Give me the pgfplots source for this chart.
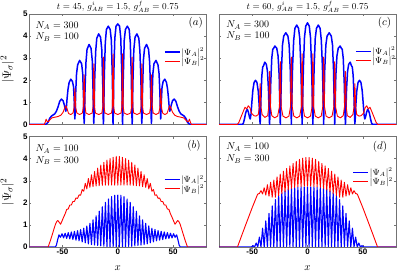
\documentclass[border=0pt]{standalone}
\usepackage{fontspec}
\setsansfont{Liberation Sans}
\usepackage{pgfplots}
\pgfplotsset{compat=1.18}
\definecolor{framegray}{gray}{0.45}
\pgfplotsset{
  every axis title shift=0pt,
  panel/.style={
    scale only axis, width=177pt, height=110.5pt,
    xmin=-80, xmax=80, ymin=0, ymax=5,
    xtick={-50,0,50}, ytick={0,1,2,3,4,5},
    tick align=inside, major tick length=2pt,
    axis line style={framegray}, tick style={framegray, line width=0.4pt},
    ticklabel style={font=\fontsize{8}{9}\selectfont\sffamily\bfseries, inner sep=1.5pt},
    legend cell align=left,
    legend image code/.code={\draw[##1] (0pt,0pt) -- (15pt,0pt);},
    legend style={draw=none, fill=none, anchor=west, font=\fontsize{9}{10}\selectfont, row sep=-2pt, inner sep=0pt, nodes={inner sep=1pt}},
    ylabel style={font=\fontsize{13}{15}\selectfont, at={(axis description cs:-0.125,0.5)}, anchor=center},
    xlabel style={font=\fontsize{11}{13}\selectfont, at={(axis description cs:0.5,-0.19)}, anchor=center},
    title style={font=\fontsize{9}{11}\selectfont, at={(axis description cs:0.5,1)}, anchor=south, inner sep=1.5pt},
    clip=true,
  },
  bl/.style={blue, line width=1.5pt, line join=round},
  bt/.style={blue, line width=1.1pt, line join=round},
  rd/.style={red, line width=0.9pt, line join=round},
}
\begin{document}
\begin{tikzpicture}
\useasboundingbox (0pt,0pt) rectangle (415pt,273pt);
% ---------------- (a)
\begin{axis}[panel, at={(29.3pt,148.5pt)}, anchor=south west,
  xticklabels={}, yticklabels={0,1,2,3,4,5},
  ylabel={$|\Psi_\sigma|^2$},
  title={$t = 45$, $g^{i}_{AB} = 1.5$, $g^{f}_{AB} = 0.75$},
  legend style={at={(axis description cs:0.76,0.613)}}]
\addplot[bl] coordinates {(-80,0) (-66,0) (-64.5,0.03) (-63,0.1) (-61.5,0.28) (-60,0.38) (-58.5,0.43) (-57,0.48) (-55.5,0.6) (-54,0.8) (-52.5,1.05) (-51,1.15) (-49.5,1.08) (-48.3,0.88) (-47.4,0.68) (-47,0.6) (-46.6,0.7) (-45.8,1.2) (-45,1.6) (-44,1.9) (-42.5,2.05) (-41,1.95) (-40,1.7) (-39.4,1.1) (-39,0.5) (-38.8,0.25) (-38.5,0.6) (-38,1.5) (-37.3,2.3) (-36.3,2.7) (-34.5,2.9) (-32.7,2.75) (-31.7,2.3) (-31,1.2) (-30.6,0.3) (-30.4,0.05) (-30.1,0.4) (-29.6,1.6) (-28.8,2.8) (-27.8,3.4) (-26,3.62) (-24.2,3.45) (-23.1,2.9) (-22.3,1.4) (-21.9,0.3) (-21.7,0.05) (-21.4,0.5) (-20.9,2) (-20,3.3) (-19,3.9) (-17.3,4.1) (-15.6,3.95) (-14.5,3.4) (-13.6,1.8) (-13.2,0.3) (-13,0.02) (-12.7,0.5) (-12.2,2.2) (-11.3,3.7) (-10.3,4.3) (-8.6,4.45) (-6.9,4.3) (-5.8,3.8) (-4.9,2) (-4.45,0.3) (-4.3,0) (-4.05,0.5) (-3.6,2.3) (-2.7,3.9) (-1.6,4.45) (0,4.55)
(1.6,4.45) (2.7,3.9) (3.6,2.3) (4.05,0.5) (4.3,0) (4.45,0.3) (4.9,2) (5.8,3.8) (6.9,4.3) (8.6,4.45) (10.3,4.3) (11.3,3.7) (12.2,2.2) (12.7,0.5) (13,0.02) (13.2,0.3) (13.6,1.8) (14.5,3.4) (15.6,3.95) (17.3,4.1) (19,3.9) (20,3.3) (20.9,2) (21.4,0.5) (21.7,0.05) (21.9,0.3) (22.3,1.4) (23.1,2.9) (24.2,3.45) (26,3.62) (27.8,3.4) (28.8,2.8) (29.6,1.6) (30.1,0.4) (30.4,0.05) (30.6,0.3) (31,1.2) (31.7,2.3) (32.7,2.75) (34.5,2.9) (36.3,2.7) (37.3,2.3) (38,1.5) (38.5,0.6) (38.8,0.25) (39,0.5) (39.4,1.1) (40,1.7) (41,1.95) (42.5,2.05) (44,1.9) (45,1.6) (45.8,1.2) (46.6,0.7) (47,0.6) (47.4,0.68) (48.3,0.88) (49.5,1.08) (51,1.15) (52.5,1.05) (54,0.8) (55.5,0.6) (57,0.48) (58.5,0.43) (60,0.38) (61.5,0.28) (63,0.1) (64.5,0.03) (66,0) (80,0)};
\addlegendentry{$|\Psi_A|^2$}
\addplot[rd] coordinates {(-80,0) (-66.5,0) (-65.5,0.12) (-64.8,0.24) (-64,0.15) (-63,0.12) (-61.5,0.2) (-59.5,0.3) (-57,0.33) (-54,0.36) (-51.5,0.42) (-49.5,0.55) (-48.2,0.72) (-47,0.85) (-45.8,0.7) (-44.5,0.5) (-42.5,0.45) (-40.5,0.52) (-39.6,0.75) (-39.1,1.3) (-38.8,1.62) (-38.5,1.3) (-38,0.75) (-37,0.52) (-34.5,0.45) (-32,0.52) (-31.2,0.8) (-30.7,1.8) (-30.4,2.25) (-30.1,1.8) (-29.6,0.8) (-28.8,0.52) (-26,0.45) (-23.2,0.52) (-22.4,0.8) (-22,2.1) (-21.7,2.75) (-21.4,2.1) (-21,0.8) (-20.2,0.52) (-17.3,0.45) (-14.4,0.52) (-13.6,0.8) (-13.3,2.3) (-13,3.05) (-12.7,2.3) (-12.4,0.8) (-11.6,0.52) (-8.6,0.45) (-5.7,0.52) (-4.9,0.8) (-4.6,2.4) (-4.3,3.2) (-4,2.4) (-3.7,0.8) (-2.9,0.52) (0,0.45)
(2.9,0.52) (3.7,0.8) (4,2.4) (4.3,3.2) (4.6,2.4) (4.9,0.8) (5.7,0.52) (8.6,0.45) (11.6,0.52) (12.4,0.8) (12.7,2.3) (13,3.05) (13.3,2.3) (13.6,0.8) (14.4,0.52) (17.3,0.45) (20.2,0.52) (21,0.8) (21.4,2.1) (21.7,2.75) (22,2.1) (22.4,0.8) (23.2,0.52) (26,0.45) (28.8,0.52) (29.6,0.8) (30.1,1.8) (30.4,2.25) (30.7,1.8) (31.2,0.8) (32,0.52) (34.5,0.45) (37,0.52) (38,0.75) (38.5,1.3) (38.8,1.62) (39.1,1.3) (39.6,0.75) (40.5,0.52) (42.5,0.45) (44.5,0.5) (45.8,0.7) (47,0.85) (48.2,0.72) (49.5,0.55) (51.5,0.42) (54,0.36) (57,0.33) (59.5,0.3) (61.5,0.2) (63,0.12) (64,0.15) (64.8,0.24) (65.5,0.12) (66.5,0) (80,0)};
\addlegendentry{$|\Psi_B|^2$}
\node[anchor=west, font=\fontsize{10}{12}\selectfont, inner sep=0pt] at (rel axis cs:0.035,0.895) {$N_A = 300$};
\node[anchor=west, font=\fontsize{10}{12}\selectfont, inner sep=0pt] at (rel axis cs:0.035,0.79) {$N_B = 100$};
\node[font=\fontsize{11}{13}\selectfont, inner sep=0pt] at (rel axis cs:0.94,0.92) {$(a)$};
\end{axis}
% ---------------- (b)
\begin{axis}[panel, at={(29.3pt,26pt)}, anchor=south west,
  xticklabels={-50,0,50}, yticklabels={0,1,2,3,4,5},
  ylabel={$|\Psi_\sigma|^2$}, xlabel={$x$},
  legend style={at={(axis description cs:0.76,0.567)}}]
\addplot[bt] coordinates {(-80,0) (-56.5,0) (-55.5,0.08) (-54.5,0.3) (-53.2,0.55) (-51.8,0.44) (-50.4,0.6) (-49,0.41) (-47.6,0.62) (-46.2,0.39) (-44.8,0.65) (-43.4,0.37) (-42,0.68) (-40.6,0.34) (-39.2,0.71) (-37.8,0.31) (-36.4,0.74) (-35,0.28) (-33.6,0.79) (-32.2,0.23) (-30.8,0.85) (-29.4,0.19) (-28,0.95) (-26.6,0.14) (-25.2,1.07) (-23.8,0.11) (-22.4,1.23) (-21,0.09) (-19.6,1.41) (-18.2,0.07) (-16.8,1.62) (-15.4,0.05) (-14,1.82) (-12.6,0.035) (-11.2,2.02) (-9.8,0.02) (-8.4,2.17) (-7,0.01) (-5.6,2.28) (-4.2,0) (-2.8,2.34) (-1.4,0) (0,2.35)
(1.4,0) (2.8,2.34) (4.2,0) (5.6,2.28) (7,0.01) (8.4,2.17) (9.8,0.02) (11.2,2.02) (12.6,0.035) (14,1.82) (15.4,0.05) (16.8,1.62) (18.2,0.07) (19.6,1.41) (21,0.09) (22.4,1.23) (23.8,0.11) (25.2,1.07) (26.6,0.14) (28,0.95) (29.4,0.19) (30.8,0.85) (32.2,0.23) (33.6,0.79) (35,0.28) (36.4,0.74) (37.8,0.31) (39.2,0.71) (40.6,0.34) (42,0.68) (43.4,0.37) (44.8,0.65) (46.2,0.39) (47.6,0.62) (49,0.41) (50.4,0.6) (51.8,0.44) (53.2,0.55) (54.5,0.3) (55.5,0.08) (56.5,0) (80,0)};
\addlegendentry{$|\Psi_A|^2$}
\addplot[rd] coordinates {(-80,0) (-63,0) (-61,0.28) (-59,0.6) (-57.5,0.85) (-56.2,1.05) (-55.2,1.15) (-54.2,1.2) (-53,1.12) (-51.7,1.03) (-50.4,1.18) (-49,1.35) (-47.6,1.5) (-46.2,1.7) (-44.8,1.72) (-43.4,1.9) (-42,1.9) (-40.6,2.06) (-39.2,2.06) (-37.8,2.22) (-36.4,2.2) (-35,2.36) (-33.6,2.34) (-32.2,2.6) (-30.8,2.52) (-29.4,2.88) (-28,2.63) (-26.6,3.1) (-25.2,2.7) (-23.8,3.27) (-22.4,2.73) (-21,3.42) (-19.6,2.76) (-18.2,3.57) (-16.8,2.77) (-15.4,3.71) (-14,2.79) (-12.6,3.83) (-11.2,2.8) (-9.8,3.93) (-8.4,2.8) (-7,4.0) (-5.6,2.8) (-4.2,4.06) (-2.8,2.8) (-1.4,4.1) (0,2.8)
(1.4,4.1) (2.8,2.8) (4.2,4.06) (5.6,2.8) (7,4.0) (8.4,2.8) (9.8,3.93) (11.2,2.8) (12.6,3.83) (14,2.79) (15.4,3.71) (16.8,2.77) (18.2,3.57) (19.6,2.76) (21,3.42) (22.4,2.73) (23.8,3.27) (25.2,2.7) (26.6,3.1) (28,2.63) (29.4,2.88) (30.8,2.52) (32.2,2.6) (33.6,2.34) (35,2.36) (36.4,2.2) (37.8,2.22) (39.2,2.06) (40.6,2.06) (42,1.9) (43.4,1.9) (44.8,1.72) (46.2,1.7) (47.6,1.5) (49,1.35) (50.4,1.18) (51.7,1.03) (53,1.12) (54.2,1.2) (55.2,1.15) (56.2,1.05) (57.5,0.85) (59,0.6) (61,0.28) (63,0) (80,0)};
\addlegendentry{$|\Psi_B|^2$}
\node[anchor=west, font=\fontsize{10}{12}\selectfont, inner sep=0pt] at (rel axis cs:0.035,0.885) {$N_A = 100$};
\node[anchor=west, font=\fontsize{10}{12}\selectfont, inner sep=0pt] at (rel axis cs:0.035,0.78) {$N_B = 300$};
\node[font=\fontsize{11}{13}\selectfont, inner sep=0pt] at (rel axis cs:0.93,0.915) {$(b)$};
\end{axis}
% ---------------- (c)
\begin{axis}[panel, at={(219pt,148.5pt)}, anchor=south west,
  xticklabels={}, yticklabels={},
  title={$t = 60$, $g^{i}_{AB} = 1.5$, $g^{f}_{AB} = 0.75$},
  legend style={at={(axis description cs:0.768,0.62)}}]
\addplot[bl] coordinates {(-80,0) (-59,0) (-58,0.05) (-57,0.25) (-56,0.5) (-55,0.65) (-54.3,0.68) (-53.4,0.55) (-52.5,0.35) (-51.8,0.25) (-51.1,0.45) (-50.3,1.0) (-49.4,1.55) (-48.3,1.9) (-47,2.0) (-45.7,1.9) (-44.5,1.5) (-43.6,0.8) (-43.1,0.2) (-42.8,0.03) (-42.5,0.4) (-42,1.3) (-41.3,2.2) (-40.5,2.6) (-39.8,2.65) (-38.6,2.82) (-37.2,2.72) (-36.2,2.4) (-35.3,1.6) (-34.7,0.5) (-34.3,0) (-33.9,0.5) (-33.2,1.9) (-32.3,3.0) (-31.4,3.4) (-30.6,3.45) (-29.5,3.55) (-27.8,3.45) (-26.6,3.1) (-25.6,2.2) (-25,0.8) (-24.6,0) (-24.2,0.8) (-23.5,2.5) (-22.6,3.6) (-21.5,4.0) (-19.6,4.15) (-17.7,4.0) (-16.6,3.6) (-15.6,2.5) (-14.9,0.8) (-14.6,0) (-14.3,0.8) (-13.5,2.6) (-12.5,3.8) (-11.4,4.35) (-9.75,4.5) (-8.1,4.35) (-7,3.9) (-6,2.6) (-5.2,0.8) (-4.85,0) (-4.5,0.8) (-3.7,2.6) (-2.7,3.95) (-1.6,4.45) (0,4.6)
(1.6,4.45) (2.7,3.95) (3.7,2.6) (4.5,0.8) (4.85,0) (5.2,0.8) (6,2.6) (7,3.9) (8.1,4.35) (9.75,4.5) (11.4,4.35) (12.5,3.8) (13.5,2.6) (14.3,0.8) (14.6,0) (14.9,0.8) (15.6,2.5) (16.6,3.6) (17.7,4.0) (19.6,4.15) (21.5,4.0) (22.6,3.6) (23.5,2.5) (24.2,0.8) (24.6,0) (25,0.8) (25.6,2.2) (26.6,3.1) (27.8,3.45) (29.5,3.55) (30.6,3.45) (31.4,3.4) (32.3,3.0) (33.2,1.9) (33.9,0.5) (34.3,0) (34.7,0.5) (35.3,1.6) (36.2,2.4) (37.2,2.72) (38.6,2.82) (39.8,2.65) (40.5,2.6) (41.3,2.2) (42,1.3) (42.5,0.4) (42.8,0.03) (43.1,0.2) (43.6,0.8) (44.5,1.5) (45.7,1.9) (47,2.0) (48.3,1.9) (49.4,1.55) (50.3,1.0) (51.1,0.45) (51.8,0.25) (52.5,0.35) (53.4,0.55) (54.3,0.68) (55,0.65) (56,0.5) (57,0.25) (58,0.05) (59,0) (80,0)};
\addlegendentry{$|\Psi_A|^2$}
\addplot[rd] coordinates {(-80,0) (-63.5,0) (-62,0.1) (-60,0.35) (-58,0.6) (-56.5,0.78) (-55,0.7) (-53.5,0.85) (-52,0.75) (-50.5,0.5) (-48.5,0.4) (-46.6,0.38) (-44.5,0.45) (-43.5,0.8) (-43.1,1.5) (-42.8,1.85) (-42.5,1.5) (-42.1,0.8) (-41,0.45) (-38.6,0.32) (-36,0.4) (-35,0.8) (-34.5,2.0) (-34.2,2.4) (-33.9,2.0) (-33.4,0.8) (-32.3,0.4) (-29.7,0.3) (-27,0.38) (-25.4,0.8) (-24.9,2.3) (-24.6,2.85) (-24.3,2.3) (-23.8,0.8) (-22.2,0.38) (-19.5,0.3) (-16.8,0.38) (-15.4,0.8) (-14.9,2.4) (-14.6,3.05) (-14.3,2.4) (-13.8,0.8) (-12.4,0.38) (-9.7,0.3) (-7,0.38) (-5.6,0.8) (-5.15,2.5) (-4.85,3.2) (-4.55,2.5) (-4.1,0.8) (-2.7,0.38) (0,0.3)
(2.7,0.38) (4.1,0.8) (4.55,2.5) (4.85,3.2) (5.15,2.5) (5.6,0.8) (7,0.38) (9.7,0.3) (12.4,0.38) (13.8,0.8) (14.3,2.4) (14.6,3.05) (14.9,2.4) (15.4,0.8) (16.8,0.38) (19.5,0.3) (22.2,0.38) (23.8,0.8) (24.3,2.3) (24.6,2.85) (24.9,2.3) (25.4,0.8) (27,0.38) (29.7,0.3) (32.3,0.4) (33.4,0.8) (33.9,2.0) (34.2,2.4) (34.5,2.0) (35,0.8) (36,0.4) (38.6,0.32) (41,0.45) (42.1,0.8) (42.5,1.5) (42.8,1.85) (43.1,1.5) (43.5,0.8) (44.5,0.45) (46.6,0.38) (48.5,0.4) (50.5,0.5) (52,0.75) (53.5,0.85) (55,0.7) (56.5,0.78) (58,0.6) (60,0.35) (62,0.1) (63.5,0) (80,0)};
\addlegendentry{$|\Psi_B|^2$}
\node[anchor=west, font=\fontsize{10}{12}\selectfont, inner sep=0pt] at (rel axis cs:0.04,0.9) {$N_A = 300$};
\node[anchor=west, font=\fontsize{10}{12}\selectfont, inner sep=0pt] at (rel axis cs:0.04,0.8) {$N_B = 100$};
\node[font=\fontsize{11}{13}\selectfont, inner sep=0pt] at (rel axis cs:0.935,0.92) {$(c)$};
\end{axis}
% ---------------- (d)
\begin{axis}[panel, at={(219pt,26pt)}, anchor=south west,
  xticklabels={-50,0,50}, yticklabels={}, xlabel={$x$},
  legend style={at={(axis description cs:0.755,0.631)}}]
\addplot[bt] coordinates {(-80,0) (-52.2,0) (-50.75,0) (-49.3,0.06) (-47.85,0) (-46.4,0.18) (-44.95,0) (-43.5,0.45) (-42.05,0) (-40.6,0.85) (-39.15,0) (-37.7,1.18) (-36.25,0) (-34.8,1.52) (-33.35,0) (-31.9,1.86) (-30.45,0) (-29,2.15) (-27.55,0) (-26.1,2.34) (-24.65,0) (-23.2,2.45) (-21.75,0) (-20.3,2.54) (-18.85,0) (-17.4,2.6) (-15.95,0) (-14.5,2.65) (-13.05,0) (-11.6,2.69) (-10.15,0) (-8.7,2.7) (-7.25,0) (-5.8,2.72) (-4.35,0) (-2.9,2.72) (-1.45,0) (0,2.72)
(1.45,0) (2.9,2.72) (4.35,0) (5.8,2.72) (7.25,0) (8.7,2.7) (10.15,0) (11.6,2.69) (13.05,0) (14.5,2.65) (15.95,0) (17.4,2.6) (18.85,0) (20.3,2.54) (21.75,0) (23.2,2.45) (24.65,0) (26.1,2.34) (27.55,0) (29,2.15) (30.45,0) (31.9,1.86) (33.35,0) (34.8,1.52) (36.25,0) (37.7,1.18) (39.15,0) (40.6,0.85) (42.05,0) (43.5,0.45) (44.95,0) (46.4,0.18) (47.85,0) (49.3,0.06) (50.75,0) (52.2,0) (80,0)};
\addlegendentry{$|\Psi_A|^2$}
\addplot[rd] coordinates {(-80,0) (-63.3,0) (-60,0.45) (-55,1.12) (-50,1.78) (-45.4,2.35) (-44.8,2.4) (-43.5,2.42) (-42.05,2.55) (-40.6,2.4) (-39.15,2.68) (-37.7,2.35) (-36.25,2.82) (-34.8,2.3) (-33.35,2.93) (-31.9,2.25) (-30.45,3.03) (-29,2.25) (-27.55,3.17) (-26.1,2.33) (-24.65,3.3) (-23.2,2.42) (-21.75,3.43) (-20.3,2.5) (-18.85,3.55) (-17.4,2.58) (-15.95,3.67) (-14.5,2.65) (-13.05,3.78) (-11.6,2.7) (-10.15,3.88) (-8.7,2.72) (-7.25,3.97) (-5.8,2.74) (-4.35,4.02) (-2.9,2.75) (-1.45,4.05) (0,2.75)
(1.45,4.05) (2.9,2.75) (4.35,4.02) (5.8,2.74) (7.25,3.97) (8.7,2.72) (10.15,3.88) (11.6,2.7) (13.05,3.78) (14.5,2.65) (15.95,3.67) (17.4,2.58) (18.85,3.55) (20.3,2.5) (21.75,3.43) (23.2,2.42) (24.65,3.3) (26.1,2.33) (27.55,3.17) (29,2.25) (30.45,3.03) (31.9,2.25) (33.35,2.93) (34.8,2.3) (36.25,2.82) (37.7,2.35) (39.15,2.68) (40.6,2.4) (42.05,2.55) (43.5,2.42) (44.8,2.4) (45.4,2.35) (50,1.78) (55,1.12) (60,0.45) (63.3,0) (80,0)};
\addlegendentry{$|\Psi_B|^2$}
\node[anchor=west, font=\fontsize{10}{12}\selectfont, inner sep=0pt] at (rel axis cs:0.04,0.905) {$N_A = 100$};
\node[anchor=west, font=\fontsize{10}{12}\selectfont, inner sep=0pt] at (rel axis cs:0.04,0.795) {$N_B = 300$};
\node[font=\fontsize{11}{13}\selectfont, inner sep=0pt] at (rel axis cs:0.91,0.905) {$(d)$};
\end{axis}
\end{tikzpicture}
\end{document}
